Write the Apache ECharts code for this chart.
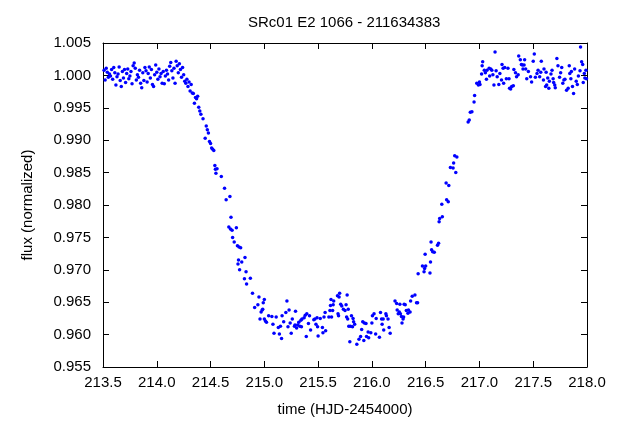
<!DOCTYPE html>
<html>
<head>
<meta charset="utf-8">
<script src="https://cdn.jsdelivr.net/npm/echarts@6/dist/echarts.min.js"></script>
<style>html,body{margin:0;padding:0;background:#fff}#c{width:625px;height:423px}</style>
</head>
<body>
<div id="c"></div>
<script>
const chartTitle = "SRc01 E2 1066 - 211634383";
const xAxisName = "time (HJD-2454000)";
const yAxisName = "flux (normalized)";
const xRange = [213.5, 218.0, 0.5];
const yRange = [0.955, 1.005, 0.005];

// [time, normalized flux]
const preTransit = [
[213.51,1.0008],[213.52,0.9993],[213.53,1.0011],[213.54,1.0005],[213.55,0.9997],[213.56,1.0002],[213.57,0.9999],[213.58,1.0009],[213.59,0.9994],[213.60,1.0012],
[213.61,1.0004],[213.62,0.9985],[213.63,0.9998],[213.64,1.0002],[213.65,1.0013],[213.66,0.9992],[213.67,0.9983],[213.68,1.0006],[213.69,0.9996],[213.70,1.0009],
[213.71,0.9989],[213.72,1.0003],[213.73,1.0010],[213.74,0.9995],[213.75,0.9999],[213.76,1.0006],[213.77,0.9987],[213.78,1.0015],[213.79,1.0019],[213.80,1.0011],
[213.81,0.9993],[213.82,1.0001],[213.83,0.9997],[213.84,1.0008],[213.85,0.9988],[213.86,0.9981],[213.87,1.0004],[213.88,0.9992],[213.89,1.0012],[213.90,1.0007],
[213.91,0.9990],[213.92,1.0003],[213.93,1.0013],[213.94,0.9996],[213.95,1.0009],[213.96,0.9986],[213.97,0.9983],[213.98,1.0001],[213.99,1.0016],[214.00,1.0005],
[214.01,0.9994],[214.02,1.0010],[214.03,0.9998],[214.04,1.0003],[214.05,0.9988],[214.06,1.0006],[214.07,0.9987],[214.08,0.9999],[214.09,1.0008],[214.10,1.0002],
[214.11,0.9993],[214.12,1.0014],[214.13,1.0020],[214.14,1.0007],[214.15,0.9996],[214.16,1.0011],[214.17,0.9988],[214.18,1.0022],[214.19,1.0015],[214.20,1.0004],
[214.21,1.0018],[214.22,1.0009],[214.23,0.9997],[214.24,1.0012],[214.25,1.0001],[214.26,0.9991]
];

const ingress = [
[214.27,0.9988],[214.28,0.9994],[214.29,0.9983],[214.30,0.9990],[214.31,0.9976],[214.32,0.9986],[214.33,0.9973],[214.34,0.9972],[214.35,0.9957],[214.36,0.9966],
[214.37,0.9964],[214.38,0.9968],[214.39,0.9951],[214.40,0.9945],[214.41,0.9940],[214.43,0.9933],[214.45,0.9903],[214.46,0.9922],[214.47,0.9916],[214.48,0.9911],
[214.49,0.9898],[214.50,0.9895],[214.51,0.9888],[214.52,0.9886],[214.53,0.9884],[214.54,0.9861],[214.545,0.9855],[214.55,0.9849],[214.56,0.9856],[214.60,0.9844],
[214.63,0.9826],[214.645,0.9808],[214.67,0.9766],[214.68,0.9813],[214.685,0.9763],[214.69,0.9781],[214.70,0.9761],[214.705,0.9750],[214.72,0.9743],[214.74,0.9765],
[214.75,0.9737],[214.755,0.9709],[214.76,0.9715],[214.765,0.9735],[214.77,0.9700],[214.78,0.9734],[214.79,0.9712],[214.815,0.9686],[214.82,0.9719],[214.83,0.9697],
[214.835,0.9678],[214.87,0.9687],[214.89,0.9664],[214.91,0.9642],[214.94,0.9646],[214.95,0.9658],[214.96,0.9624],[214.97,0.9635],[214.98,0.9638],[214.985,0.9639],
[214.99,0.9649],[215.00,0.9654]
];

const transitFloor = [
[215.00,0.9624],[215.01,0.9621],[215.02,0.9619],[215.04,0.9629],[215.07,0.9628],[215.08,0.9616],[215.09,0.9602],[215.11,0.9627],[215.13,0.9611],[215.14,0.9601],
[215.15,0.9613],[215.16,0.9594],[215.165,0.9629],[215.18,0.9620],[215.20,0.9634],[215.21,0.9652],[215.22,0.9612],[215.23,0.9638],[215.24,0.9618],[215.25,0.9602],
[215.26,0.9624],[215.28,0.9613],[215.285,0.9615],[215.29,0.9636],[215.30,0.9610],[215.31,0.9615],[215.32,0.9619],[215.33,0.9613],[215.34,0.9622],[215.345,0.9612],
[215.35,0.9624],[215.37,0.9626],[215.38,0.9630],[215.39,0.9597],[215.395,0.9632],[215.41,0.9617],[215.42,0.9629],[215.43,0.9607],[215.46,0.9623],[215.47,0.9624],
[215.48,0.9616],[215.49,0.9626],[215.495,0.9612],[215.50,0.9598],[215.52,0.9625],[215.54,0.9611],[215.545,0.9603],[215.555,0.9627],[215.565,0.9634],[215.57,0.9606],
[215.60,0.9627],[215.61,0.9637],[215.615,0.9645],[215.62,0.9654],[215.625,0.9627],[215.635,0.9637],[215.64,0.9646],[215.645,0.9652],[215.68,0.9660],[215.685,0.9632],
[215.69,0.9629],[215.695,0.9658],[215.70,0.9664],[215.71,0.9647],[215.72,0.9644],[215.735,0.9639],[215.75,0.9637],[215.76,0.9646],[215.765,0.9627],[215.77,0.9661],
[215.775,0.9624],[215.78,0.9639],[215.785,0.9613],[215.795,0.9589],[215.80,0.9613],[215.81,0.9629],[215.82,0.9612],[215.825,0.9625],[215.83,0.9620],[215.84,0.9616],
[215.86,0.9585],[215.88,0.9593],[215.895,0.9597],[215.905,0.9608],[215.915,0.9620],[215.925,0.9591],[215.93,0.9618],[215.945,0.9617],[215.95,0.9597],[215.965,0.9604],
[215.97,0.9595],[215.99,0.9603],[216.00,0.9618],[216.005,0.9629],[216.02,0.9632],[216.035,0.9601],[216.04,0.9625],[216.07,0.9596],[216.08,0.9634],[216.09,0.9624],
[216.095,0.9616],[216.105,0.9624],[216.11,0.9607],[216.13,0.9632],[216.135,0.9629],[216.15,0.9624],[216.16,0.9611],[216.17,0.9602],[216.215,0.9652],[216.23,0.9648],
[216.235,0.9638],[216.245,0.9632],[216.255,0.9635],[216.26,0.9647],[216.265,0.9632],[216.275,0.9628],[216.28,0.9618],[216.29,0.9624],[216.295,0.9627],[216.30,0.9647],
[216.31,0.9646],[216.32,0.9637],[216.335,0.9633],[216.34,0.9638],[216.355,0.9635],[216.36,0.9652],[216.375,0.9659],[216.40,0.9661],[216.415,0.9649],[216.425,0.9649]
];

const egress = [
[216.43,0.9694],[216.47,0.9706],[216.485,0.9697],[216.49,0.9702],[216.495,0.9724],[216.50,0.9706],[216.54,0.9695],[216.545,0.9712],[216.55,0.9743],[216.555,0.9731],
[216.565,0.9728],[216.58,0.9727],[216.61,0.9738],[216.62,0.9741],[216.625,0.9774],[216.63,0.9779],[216.65,0.9801],[216.655,0.9782],[216.69,0.9834],[216.695,0.9808],
[216.71,0.9805],[216.715,0.9830],[216.73,0.9858],[216.755,0.9857],[216.76,0.9865],[216.77,0.9876],[216.78,0.9850],[216.79,0.9874],[216.895,0.9928],[216.905,0.9931],
[216.915,0.9943],[216.93,0.9944],[216.95,0.9959],[216.955,0.9969],[216.975,0.9988],[216.99,0.9985],[217.00,0.9990],[217.005,0.9986],[217.02,1.0002],[217.025,1.0015],
[217.03,1.0021]
];

const postTransit = [
[217.045,1.0008],[217.055,1.0004],[217.065,0.9994],[217.07,1.0008],[217.09,1.0011],[217.095,0.9999],[217.105,1.0010],[217.115,1.0008],[217.125,1.0001],[217.135,0.9985],
[217.145,1.0036],[217.155,1.0007],[217.165,0.9998],[217.18,0.9986],[217.19,1.0003],[217.205,0.9993],[217.21,1.0017],[217.22,1.0011],[217.225,0.9988],[217.235,1.0012],
[217.25,0.9995],[217.265,1.0011],[217.275,0.9995],[217.28,0.9980],[217.29,0.9979],[217.30,0.9983],[217.315,0.9984],[217.32,1.0009],[217.335,1.0004],[217.345,0.9998],
[217.36,1.0001],[217.365,1.0030],[217.38,1.0024],[217.39,1.0017],[217.40,1.0016],[217.405,1.0010],[217.415,1.0016],[217.42,1.0024],[217.43,1.0010],[217.44,0.9995],
[217.455,1.0006],[217.475,0.9998],[217.485,0.9990],[217.50,1.0022],[217.51,1.0033],[217.52,0.9997],[217.535,1.0003],[217.545,1.0008],[217.56,0.9998],[217.57,1.0005],
[217.575,1.0022],[217.595,0.9993],[217.60,1.0010],[217.615,0.9983],[217.62,1.0005],[217.625,0.9985],[217.635,0.9996],[217.645,0.9980],[217.65,0.9991],[217.665,1.0002],
[217.675,1.0008],[217.685,0.9995],[217.69,0.9989],[217.70,0.9985],[217.705,0.9981],[217.72,1.0026],[217.73,1.0015],[217.745,0.9997],[217.755,1.0004],[217.765,1.0012],
[217.775,0.9988],[217.785,0.9993],[217.795,0.9994],[217.81,0.9977],[217.825,0.9980],[217.835,1.0015],[217.84,1.0003],[217.85,0.9995],[217.855,1.0006],[217.865,0.9983],
[217.875,0.9972],[217.885,1.0010],[217.90,0.9991],[217.91,0.9986],[217.92,0.9999],[217.935,1.0007],[217.94,1.0044],[217.95,1.0021],[217.96,1.0017],[217.965,0.9989],
[217.975,1.0003],[217.98,0.9996],[217.99,1.0008],[217.995,0.9995]
];

const allPoints = [].concat(preTransit, ingress, transitFloor, egress, postTransit);

const FONT = "Liberation Sans";
const txt = {color:"#000", fontFamily:FONT, fontSize:15};
const lineStyle = {color:"#000", width:1};

function xAx(pos, showLabel){
  return {type:"value", position:pos, min:xRange[0], max:xRange[1], interval:xRange[2],
    axisLine:{show:true, onZero:false, lineStyle},
    axisTick:{show:true, inside:true, length:6, lineStyle},
    axisLabel:{show:showLabel, ...txt, margin:8, formatter:v=>v.toFixed(1)},
    splitLine:{show:false},
    name: showLabel ? xAxisName : "", nameLocation:"middle", nameGap:35, nameTextStyle:txt};
}
function yAx(pos, showLabel){
  return {type:"value", position:pos, min:yRange[0], max:yRange[1], interval:yRange[2],
    axisLine:{show:true, onZero:false, lineStyle},
    axisTick:{show:true, inside:true, length:6, lineStyle},
    axisLabel:{show:showLabel, ...txt, margin:12, formatter:v=>v.toFixed(3)},
    splitLine:{show:false},
    name: showLabel ? yAxisName : "", nameLocation:"middle", nameGap:68, nameTextStyle:txt};
}

const chart = echarts.init(document.getElementById("c"), null, {renderer:"canvas"});
chart.setOption({
  animation:false,
  backgroundColor:"#fff",
  title:{text:chartTitle, left:243, top:10, textStyle:{...txt, fontWeight:"normal"}},
  grid:{left:103, right:38, top:43, bottom:56},
  xAxis:[xAx("bottom", true), xAx("top", false)],
  yAxis:[yAx("left", true), yAx("right", false)],
  series:[{
    type:"scatter", xAxisIndex:0, yAxisIndex:0,
    data:allPoints, symbol:"circle", symbolSize:3.5,
    itemStyle:{color:"#0000ff", opacity:1}, silent:true
  }]
});
</script>
</body>
</html>
